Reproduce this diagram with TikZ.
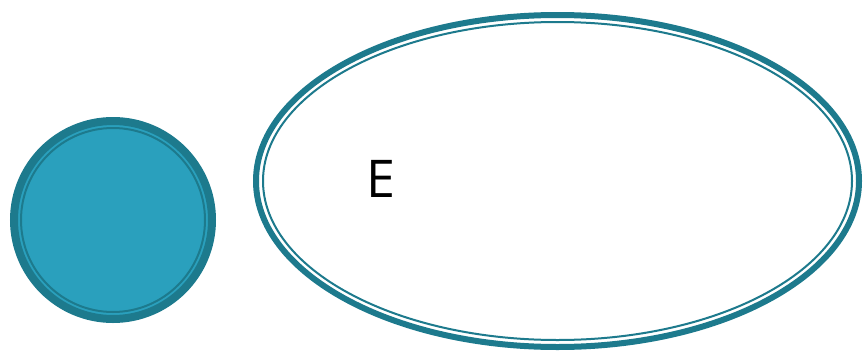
\documentclass[tikz,border=0pt]{standalone}
\usepackage{fontspec}
\newfontfamily\labelfont{Open Sans}
\usetikzlibrary{shapes.geometric,positioning}
\definecolor{ringdark}{RGB}{29,122,141}
\definecolor{stateblue}{RGB}{42,160,189}
\tikzset{
	startstate/.style={
		circle,
		draw=ringdark,
		fill=stateblue,
		line width=8pt,
		minimum size=198pt,
		inner sep=0pt
	},
	innerring/.style={
		circle,
		draw=ringdark,
		line width=2pt,
		minimum size=184pt,
		inner sep=0pt
	},
	endstate/.style={
		ellipse,
		draw=ringdark,
		fill=white,
		line width=6pt,
		minimum width=603pt,
		minimum height=332pt,
		inner sep=0pt
	},
	endring/.style={
		ellipse,
		draw=ringdark,
		line width=2pt,
		minimum width=589pt,
		minimum height=318pt,
		inner sep=0pt
	}
}
\begin{document}
\begin{tikzpicture}[x=1pt,y=1pt]
	\useasboundingbox (0,0) rectangle (867,-351);
	
	% --- START STATE ---
	\node[startstate] (start) at (113,-220) {};
	\node[innerring] (startring) at (start.center) {};
	
	% --- END STATE ---
	\node[endstate] (finish) at (557.5,-181) {};
	\node[endring] (finishring) at (finish.center) {};
	
	\node (lblE) at (381,-179) {\labelfont\fontsize{52}{60}\selectfont E};
	
\end{tikzpicture}
\end{document}
